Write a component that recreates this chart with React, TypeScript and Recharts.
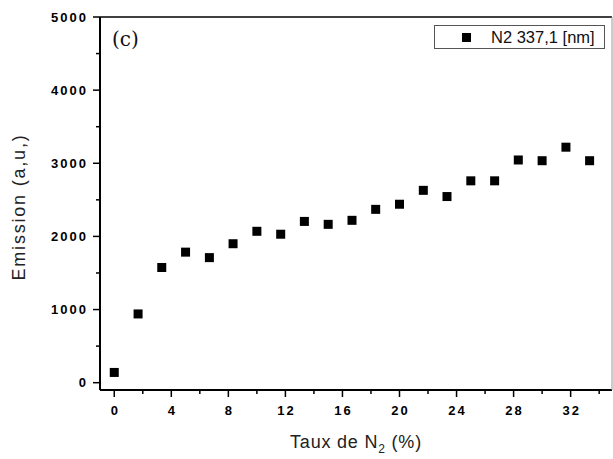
import { ScatterChart, Scatter, XAxis, YAxis, Legend } from 'recharts'

// N2 rate (%) and emission intensity (a.u.) for the 337.1 nm band
const nitrogenRate = [
  0, 1.67, 3.33, 5, 6.67, 8.33, 10, 11.67, 13.33, 15, 16.67, 18.33, 20, 21.67,
  23.33, 25, 26.67, 28.33, 30, 31.67, 33.33,
]
const emission = [
  140, 940, 1575, 1785, 1710, 1900, 2070, 2030, 2205, 2165, 2220, 2370, 2440,
  2630, 2545, 2760, 2760, 3045, 3035, 3220, 3035,
]
const xTicks = [0, 2, 4, 6, 8, 10, 12, 14, 16, 18, 20, 22, 24, 26, 28, 30, 32, 34]
const yTicks = [0, 500, 1000, 1500, 2000, 2500, 3000, 3500, 4000, 4500, 5000]
const seriesName = 'N2 337,1 [nm]'

const data = nitrogenRate.map((x, i) => ({ x, y: emission[i] }))

const font = '"Liberation Sans", Arial, sans-serif'

function BottomTick({ x, y, payload }: any) {
  const major = payload.value % 4 === 0
  return (
    <g>
      <line x1={x} x2={x} y1={y} y2={y + (major ? 7 : 4)} stroke="#000" strokeWidth={1.5} />
      {major && (
        <text x={x + 1} y={y + 25} textAnchor="middle" fontFamily={font} fontWeight="bold"
          fontSize={13} letterSpacing={2} fill="#000">
          {payload.value}
        </text>
      )}
    </g>
  )
}

function TopTick({ x, y, payload }: any) {
  const major = payload.value % 4 === 0
  return <line x1={x} x2={x} y1={y} y2={y - (major ? 7 : 4)} stroke="#000" strokeWidth={1.5} />
}

function LeftTick({ x, y, payload }: any) {
  const major = payload.value % 1000 === 0
  return (
    <g>
      <line x1={x} x2={x - (major ? 7 : 4)} y1={y} y2={y} stroke="#000" strokeWidth={1.5} />
      {major && (
        <text x={x - 12} y={y + 4.7} textAnchor="end" fontFamily={font} fontWeight="bold"
          fontSize={13} letterSpacing={2} fill="#000">
          {payload.value}
        </text>
      )}
    </g>
  )
}

function XTitle({ viewBox }: any) {
  const cx = viewBox.x + viewBox.width / 2
  return (
    <text x={cx} y={viewBox.y + 58} textAnchor="middle" fontFamily={font} fontSize={18}
      letterSpacing={0.8} fill="#222">
      <tspan>Taux de N</tspan>
      <tspan dy={5} fontSize={12}>2</tspan>
      <tspan dy={-5}> (%)</tspan>
    </text>
  )
}

function YTitle() {
  return (
    <text x={25} y={207} transform="rotate(-90, 25, 207)" textAnchor="middle" fontFamily={font}
      fontSize={18} letterSpacing={1.8} fill="#222">
      Emission (a,u,)
    </text>
  )
}

function SquareDot({ cx, cy }: any) {
  return <rect x={cx - 4.5} y={cy - 4.5} width={9} height={9} fill="#000" />
}

function LegendBox() {
  return (
    <div style={{ position: 'relative', width: 171, height: 24, border: '1px solid #555',
      boxSizing: 'border-box', background: '#fff', fontFamily: font }}>
      <div style={{ position: 'absolute', left: 27, top: 7, width: 9, height: 9, background: '#000' }} />
      <div style={{ position: 'absolute', left: 56, top: 1, fontSize: 16.5, lineHeight: '20px',
        color: '#111', whiteSpace: 'nowrap' }}>
        {seriesName}
      </div>
    </div>
  )
}

export default function App() {
  return (
    <div style={{ position: 'absolute', left: 0, top: 0, background: '#fff' }}>
      <ScatterChart width={613} height={459} margin={{ top: 0, right: 0, bottom: 0, left: 0 }}>
        <XAxis dataKey="x" type="number" domain={[-1, 34.9]} ticks={xTicks} interval={0}
          height={69} tickSize={0} tickMargin={0} tickLine={false} tick={<BottomTick />}
          axisLine={{ stroke: '#000', strokeWidth: 2 }} allowDataOverflow
          label={<XTitle />} />
        <XAxis xAxisId="top" orientation="top" type="number" domain={[-1, 34.9]} ticks={xTicks}
          interval={0} height={17} tickSize={0} tickMargin={0} tickLine={false} tick={<TopTick />}
          axisLine={{ stroke: '#000', strokeWidth: 1.5 }} allowDataOverflow />
        <YAxis dataKey="y" type="number" domain={[-100, 5000]} ticks={yTicks} interval={0}
          width={100} tickSize={0} tickMargin={0} tickLine={false} tick={<LeftTick />}
          axisLine={{ stroke: '#000', strokeWidth: 2 }} allowDataOverflow
          label={<YTitle />} />
        <YAxis yAxisId="right" orientation="right" type="number" domain={[-100, 5000]} width={1}
          tick={false} tickLine={false} axisLine={{ stroke: '#999', strokeWidth: 1 }} />
        <Legend layout="horizontal" verticalAlign="middle" align="center"
          wrapperStyle={{ left: 434, top: 25, width: 171, height: 24 }}
          content={() => <LegendBox />} />
        <Scatter name={seriesName} data={data} fill="#000" shape={<SquareDot />}
          isAnimationActive={false} />
        <text x={112} y={46} fontFamily='"DejaVu Serif", serif' fontSize={20} fill="#111">
          (c)
        </text>
      </ScatterChart>
    </div>
  )
}
